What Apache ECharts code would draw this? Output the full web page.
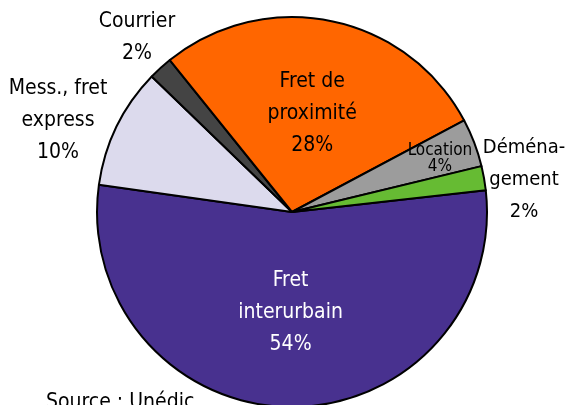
<!DOCTYPE html>
<html>
<head>
<meta charset="utf-8">
<script src="https://cdn.jsdelivr.net/npm/echarts@6/dist/echarts.min.js"></script>
<style>
  html, body { margin: 0; padding: 0; background: #fff; }
  #main { width: 565px; height: 405px; }
</style>
</head>
<body>
<div id="main"></div>
<script>
// categories and shares (%), clockwise from the right
var categories = ['Fret\ninterurbain', 'Mess., fret\nexpress', 'Courrier', 'Fret de\nproximité', 'Location', 'Déména-\ngement'];
var values = [54, 10, 2, 28, 4, 2];
var colors = ['#48318f', '#dcdaed', '#444444', '#ff6600', '#9c9c9c', '#66bb33'];

var Chart = echarts.init(document.getElementById('main'));

var FONT = '"Liberation Sans Narrow", "DejaVu Sans Condensed", sans-serif';

var data = categories.map(function (name, i) {
  var item = { name: name, value: values[i], itemStyle: { color: colors[i] } };
  if (i === 0) {
    item.label = { position: 'inside', color: '#fff' };
  } else if (i === 3) {
    item.label = { position: 'inside', color: '#000' };
  } else if (i === 4) {
    item.label = { position: 'inside', color: '#000', fontSize: 17, lineHeight: 16 };
  } else if (i === 5) {
    item.label = { position: 'outside', color: '#000', align: 'center', fontSize: 20 };
  } else {
    item.label = { position: 'outside', color: '#000', align: 'center' };
  }
  return item;
});

// where the outside labels sit (label anchor, centred)
var outsideLabelPos = { 1: [58, 121], 2: [137, 38], 5: [524, 180] };

var option = {
  animation: false,
  graphic: [{
    type: 'text',
    left: 46,
    top: 392,
    style: { text: 'Source : Unédic', font: '21px ' + FONT, fill: '#000' }
  }],
  series: [{
    type: 'pie',
    center: [292, 212],
    radius: 195,
    startAngle: 6.4,
    clockwise: true,
    avoidLabelOverlap: false,
    itemStyle: { borderColor: '#000', borderWidth: 2 },
    label: {
      fontFamily: FONT,
      fontSize: 21,
      lineHeight: 32,
      formatter: '{b}\n{d}%'
    },
    labelLine: { show: false, length: 18, length2: 0 },
    labelLayout: function (p) {
      if (p.dataIndex === 4) return { dx: 54, dy: -18 };
      var pos = outsideLabelPos[p.dataIndex];
      if (pos) return { x: pos[0], y: pos[1], align: 'center', verticalAlign: 'middle' };
      return {};
    },
    data: data
  }]
};

Chart.setOption(option);
</script>
</body>
</html>
